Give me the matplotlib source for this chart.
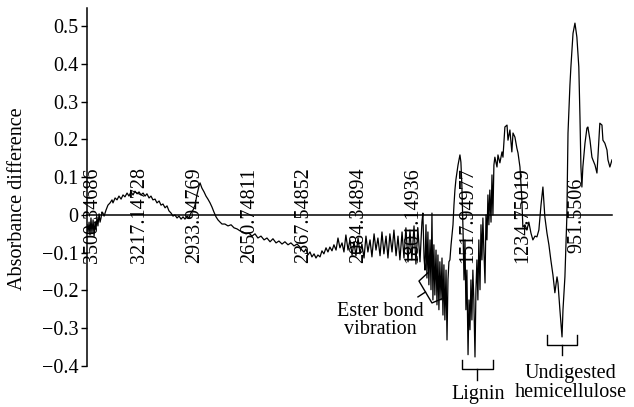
import matplotlib
matplotlib.use('Agg')
import matplotlib.pyplot as plt
import matplotlib.transforms as mtransforms

# wavenumber (cm-1) and absorbance difference
wavenumber = [3491, 3486, 3481, 3476, 3471, 3466, 3460, 3455, 3450, 3445, 3440, 3435, 3429, 3424, 3419, 3414, 3409, 3403,
              3393, 3383, 3372, 3362, 3357, 3346, 3336, 3326, 3315, 3305, 3295, 3284, 3274, 3264, 3253, 3243, 3232, 3222,
              3212, 3201, 3191, 3181, 3170, 3160, 3150, 3139, 3129, 3118, 3108, 3098, 3087, 3077, 3067, 3056, 3046, 3036,
              3025, 3015, 3004, 2994, 2984, 2973, 2963, 2953, 2942, 2932, 2922, 2911, 2906, 2896, 2885, 2875, 2865, 2854,
              2844, 2834, 2823, 2813, 2802, 2792, 2777, 2761, 2745, 2730, 2714, 2699, 2683, 2668, 2652, 2637, 2621, 2606,
              2590, 2574, 2559, 2543, 2528, 2512, 2497, 2481, 2466, 2450, 2435, 2419, 2403, 2388, 2378, 2367, 2357, 2347,
              2336, 2326, 2315, 2305, 2295, 2284, 2274, 2264, 2253, 2243, 2233, 2222, 2212, 2201, 2191, 2181, 2170, 2160,
              2150, 2139, 2129, 2118, 2108, 2098, 2087, 2077, 2067, 2056, 2046, 2036, 2025, 2015, 2004, 1994, 1984, 1973,
              1963, 1953, 1942, 1932, 1922, 1911, 1901, 1890, 1880, 1870, 1859, 1849, 1839, 1828, 1818, 1808, 1797, 1787,
              1777, 1766, 1756, 1751, 1745, 1740, 1735, 1730, 1725, 1720, 1714, 1709, 1704, 1699, 1694, 1689, 1683, 1678,
              1673, 1668, 1663, 1657, 1652, 1647, 1642, 1637, 1631, 1626, 1621, 1616, 1611, 1605, 1600, 1595, 1590, 1585,
              1580, 1574, 1569, 1564, 1559, 1554, 1549, 1543, 1538, 1533, 1528, 1523, 1517, 1512, 1507, 1502, 1497, 1492,
              1487, 1481, 1476, 1471, 1466, 1461, 1455, 1450, 1445, 1440, 1435, 1429, 1424, 1419, 1414, 1409, 1404, 1398,
              1393, 1388, 1383, 1378, 1367, 1362, 1352, 1341, 1336, 1326, 1315, 1310, 1300, 1290, 1284, 1274, 1264, 1258,
              1248, 1238, 1233, 1222, 1212, 1202, 1191, 1181, 1170, 1160, 1150, 1139, 1129, 1119, 1108, 1098, 1088, 1077,
              1067, 1056, 1051, 1041, 1030, 1025, 1015, 1005, 999, 989, 984, 973, 963, 953, 943, 937, 932, 927,
              922, 911, 901, 896, 885, 875, 870, 859, 849, 844, 834, 823, 818, 808, 797, 792, 782, 771]
absorbance = [-0.026, -0.045, -0.019, -0.053, -0.008, -0.048, -0.013, -0.056, -0.019, -0.040, -0.005, -0.029, 0.003, -0.019, -0.008, 0.008, 0.005, -0.003,
              0.013, 0.026, 0.032, 0.040, 0.032, 0.045, 0.040, 0.050, 0.042, 0.053, 0.048, 0.058, 0.050, 0.061, 0.053, 0.063, 0.056, 0.061,
              0.053, 0.058, 0.050, 0.056, 0.045, 0.050, 0.040, 0.042, 0.032, 0.037, 0.026, 0.029, 0.019, 0.024, 0.011, 0.005, -0.003, 0.000,
              -0.008, -0.003, -0.011, -0.005, -0.011, -0.003, -0.008, 0.005, 0.013, 0.026, 0.053, 0.077, 0.085, 0.071, 0.061, 0.050, 0.042, 0.032,
              0.021, 0.008, -0.005, -0.013, -0.019, -0.024, -0.024, -0.029, -0.026, -0.034, -0.037, -0.042, -0.045, -0.050, -0.048, -0.056, -0.050, -0.061,
              -0.056, -0.066, -0.061, -0.071, -0.063, -0.074, -0.069, -0.077, -0.071, -0.079, -0.074, -0.082, -0.077, -0.085, -0.093, -0.098, -0.090, -0.106,
              -0.098, -0.111, -0.103, -0.114, -0.106, -0.111, -0.095, -0.103, -0.087, -0.098, -0.085, -0.095, -0.079, -0.093, -0.061, -0.087, -0.074, -0.098,
              -0.053, -0.093, -0.066, -0.106, -0.071, -0.108, -0.061, -0.103, -0.077, -0.114, -0.056, -0.098, -0.066, -0.111, -0.050, -0.093, -0.061, -0.108,
              -0.045, -0.103, -0.056, -0.114, -0.050, -0.098, -0.040, -0.108, -0.056, -0.119, -0.045, -0.114, -0.034, -0.124, -0.040, -0.119, -0.029, -0.130,
              -0.034, -0.124, -0.019, 0.005, -0.114, -0.146, -0.026, -0.167, -0.045, -0.185, -0.066, -0.198, 0.005, -0.225, -0.079, -0.212, -0.093, -0.238,
              -0.106, -0.251, -0.124, -0.225, -0.114, -0.265, -0.132, -0.278, -0.146, -0.331, -0.172, -0.124, -0.119, -0.079, -0.053, -0.026, 0.026, 0.066,
              0.093, 0.114, 0.132, 0.146, 0.159, 0.140, 0.079, -0.040, -0.172, -0.066, -0.251, -0.146, -0.370, -0.225, -0.304, -0.172, -0.278, -0.146,
              -0.225, -0.376, -0.198, -0.119, -0.225, -0.066, -0.198, -0.026, -0.119, -0.008, -0.093, -0.180, 0.000, -0.066, 0.053, -0.026, 0.066, -0.019,
              0.106, 0.000, 0.132, 0.153, 0.127, 0.159, 0.138, 0.167, 0.153, 0.233, 0.238, 0.198, 0.225, 0.167, 0.217, 0.206, 0.177, 0.164,
              0.127, 0.040, -0.032, -0.026, -0.040, -0.019, -0.048, -0.066, -0.056, -0.058, -0.040, 0.026, 0.074, -0.005, -0.048, -0.079, -0.119, -0.159,
              -0.206, -0.164, -0.180, -0.251, -0.323, -0.251, -0.164, -0.005, 0.217, 0.344, 0.392, 0.481, 0.508, 0.471, 0.392, 0.259, 0.127, 0.074,
              0.127, 0.190, 0.230, 0.233, 0.198, 0.153, 0.146, 0.132, 0.111, 0.153, 0.243, 0.238, 0.198, 0.190, 0.172, 0.146, 0.127, 0.146]

tick_wn = [3500.34686, 3217.14728, 2933.94769, 2650.74811, 2367.54852,
           2084.34894, 1801.14936, 1517.94977, 1234.75019, 951.5506]
tick_text = ['3500.34686', '3217.14728', '2933.94769', '2650.74811', '2367.54852',
             '2084.34894', '1801.14936', '1517.94977', '1234.75019', '951.5506']
y_ticks = [-0.4, -0.3, -0.2, -0.1, 0, 0.1, 0.2, 0.3, 0.4, 0.5]

plt.rcParams['font.family'] = ['Liberation Serif', 'DejaVu Serif']
fs = 14.5

fig = plt.figure(figsize=(6.34, 4.07), dpi=100)
ax = fig.add_axes([0.1368, 0.1007, 0.8285, 0.8796])

ax.plot(wavenumber, absorbance, color='black', linewidth=0.9)

ax.set_xlim(3493, 771)
ax.set_ylim(-0.4, 0.548)

ax.spines['top'].set_visible(False)
ax.spines['right'].set_visible(False)
ax.spines['bottom'].set_position(('data', 0))
ax.spines['left'].set_linewidth(1.1)
ax.spines['bottom'].set_linewidth(1.1)
ax.set_xticks([])

ax.set_yticks(y_ticks)
ax.set_yticklabels([('%g' % v).replace('-', '\u2212') for v in y_ticks], fontsize=fs)
ax.tick_params(axis='y', direction='out', length=4, width=1, pad=2)

# category labels sit on the zero line; the first one is pushed off the axis a bit
for i, (wn, lab) in enumerate(zip(tick_wn, tick_text)):
    tr = ax.transData
    if i == 0:
        tr = mtransforms.offset_copy(ax.transData, fig=fig, x=7, y=0, units='dots')
    ax.text(wn, 0, lab, rotation=90, ha='center', va='center', fontsize=fs,
            clip_on=False, transform=tr)

fig.text(0.027, 0.513, 'Absorbance difference', rotation=90, ha='center', va='center', fontsize=fs)

# ester bond brace and label
ax.plot([1724.7, 1771.3, 1704, 1652.2], [-0.153, -0.175, -0.233, -0.222], color='black', lw=1, clip_on=False)
ax.plot([1737.6, 1776.5], [-0.204, -0.217], color='black', lw=1, clip_on=False)
ax.text(1973, -0.279, 'Ester bond\nvibration', ha='center', va='center', fontsize=fs, linespacing=0.95)

# lignin brace and label
ax.plot([1548.6, 1548.6, 1388, 1388], [-0.384, -0.407, -0.407, -0.384], color='black', lw=1, clip_on=False)
ax.plot([1470.9, 1470.9], [-0.407, -0.437], color='black', lw=1, clip_on=False)
ax.text(1465.7, -0.476, 'Lignin', ha='center', va='center', fontsize=fs, clip_on=False)

# hemicellulose brace and label
ax.plot([1108, 1108, 952.8, 952.8], [-0.317, -0.344, -0.344, -0.317], color='black', lw=1, clip_on=False)
ax.plot([1030.5, 1030.5], [-0.344, -0.370], color='black', lw=1, clip_on=False)
ax.text(985, -0.445, 'Undigested\nhemicellulose', ha='center', va='center', fontsize=fs,
        linespacing=0.95, clip_on=False)

fig.savefig('out.png', dpi=100)
